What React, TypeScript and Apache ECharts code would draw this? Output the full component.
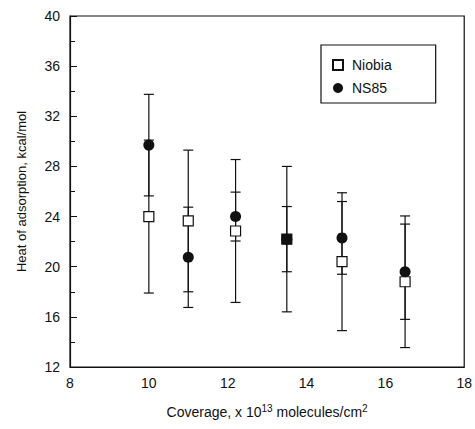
import React, { useEffect, useRef } from "react";
import * as echarts from "echarts";

const coverage = [10, 11, 12.2, 13.5, 14.9, 16.5];
const niobiaHeat = [24.0, 23.65, 22.85, 22.2, 20.4, 18.8];
const niobiaErr = [6.1, 5.65, 5.7, 5.8, 5.5, 5.25];
const ns85Heat = [29.7, 20.75, 24.0, 22.2, 22.3, 19.6];
const ns85Err = [4.05, 4.0, 1.95, 2.6, 2.9, 3.8];
const seriesNames = ["Niobia", "NS85"];

const FONT = "Liberation Sans, Arial, Helvetica, sans-serif";

export default function App() {
  const ref = useRef<HTMLDivElement>(null);
  useEffect(() => {
    if (!ref.current) return;
    const chart = echarts.init(ref.current, null, { renderer: "svg" });

    const errData: number[][] = [];
    coverage.forEach((x, i) => {
      errData.push([x, niobiaHeat[i] - niobiaErr[i], niobiaHeat[i] + niobiaErr[i]]);
      errData.push([x, ns85Heat[i] - ns85Err[i], ns85Heat[i] + ns85Err[i]]);
    });

    const renderErr = (params: any, api: any) => {
      const x = api.value(0);
      const lo = api.coord([x, api.value(1)]);
      const hi = api.coord([x, api.value(2)]);
      const cap = 5;
      const style = { stroke: "#111", lineWidth: 1.2 };
      return {
        type: "group",
        children: [
          { type: "line", shape: { x1: lo[0], y1: lo[1], x2: hi[0], y2: hi[1] }, style },
          { type: "line", shape: { x1: lo[0] - cap, y1: lo[1], x2: lo[0] + cap, y2: lo[1] }, style },
          { type: "line", shape: { x1: hi[0] - cap, y1: hi[1], x2: hi[0] + cap, y2: hi[1] }, style },
        ],
      };
    };

    chart.setOption({
      animation: false,
      backgroundColor: "#fff",
      textStyle: { fontFamily: FONT, color: "#111" },
      grid: {
        left: 70,
        right: 10,
        top: 16,
        bottom: 62,
        show: true,
        borderColor: "#111",
        borderWidth: 1.2,
      },
      legend: {
        data: seriesNames,
        orient: "vertical",
        left: 321,
        top: 45,
        borderColor: "#111",
        borderWidth: 1.2,
        backgroundColor: "#fff",
        padding: [13, 44, 8, 11],
        itemGap: 9,
        itemWidth: 10,
        itemHeight: 10,
        textStyle: { fontFamily: FONT, fontSize: 14, color: "#111", padding: [0, 0, 0, 4] },
      },
      xAxis: {
        type: "value",
        min: 8,
        max: 18,
        interval: 2,
        name: "Coverage, x 10{sup|13} molecules/cm{sup|2}",
        nameLocation: "middle",
        nameGap: 36,
        nameTextStyle: {
          fontFamily: FONT,
          fontSize: 14,
          color: "#111",
          rich: {
            sup: { fontSize: 10, padding: [0, 0, 8, 0], fontFamily: FONT, color: "#111" },
          },
        },
        axisLine: { show: true, lineStyle: { color: "#111", width: 1.2 } },
        axisTick: { show: false },
        splitLine: { show: false },
        axisLabel: { fontFamily: FONT, fontSize: 14, color: "#111", margin: 9 },
      },
      yAxis: {
        type: "value",
        min: 12,
        max: 40,
        interval: 4,
        name: "Heat of adsorption, kcal/mol",
        nameLocation: "middle",
        nameGap: 42,
        nameTextStyle: { fontFamily: FONT, fontSize: 13, color: "#111" },
        axisLine: { show: true, lineStyle: { color: "#111", width: 1.2 } },
        axisTick: { show: true, inside: true, length: 7, lineStyle: { color: "#111" } },
        minorTick: { show: true, splitNumber: 2, length: 5, lineStyle: { color: "#111" } },
        splitLine: { show: false },
        axisLabel: { fontFamily: FONT, fontSize: 14, color: "#111", margin: 10 },
      },
      series: [
        {
          type: "custom",
          name: "err",
          renderItem: renderErr,
          data: errData,
          encode: { x: 0, y: [1, 2] },
          z: 1,
          silent: true,
        },
        {
          type: "scatter",
          name: seriesNames[0],
          symbol: "rect",
          symbolSize: 10,
          itemStyle: { color: "#fff", borderColor: "#111", borderWidth: 1.2, opacity: 1 },
          data: coverage.map((x, i) =>
            i === 3
              ? { value: [x, niobiaHeat[i]], itemStyle: { color: "#111" } }
              : [x, niobiaHeat[i]]
          ),
          z: 3,
        },
        {
          type: "scatter",
          name: seriesNames[1],
          symbol: "circle",
          symbolSize: 11,
          itemStyle: { color: "#111", opacity: 1 },
          data: coverage.map((x, i) => [x, ns85Heat[i]]),
          z: 4,
        },
      ],
    });
    return () => chart.dispose();
  }, []);
  return <div ref={ref} style={{ width: 475, height: 429, position: "absolute", left: 0, top: 0 }} />;
}
